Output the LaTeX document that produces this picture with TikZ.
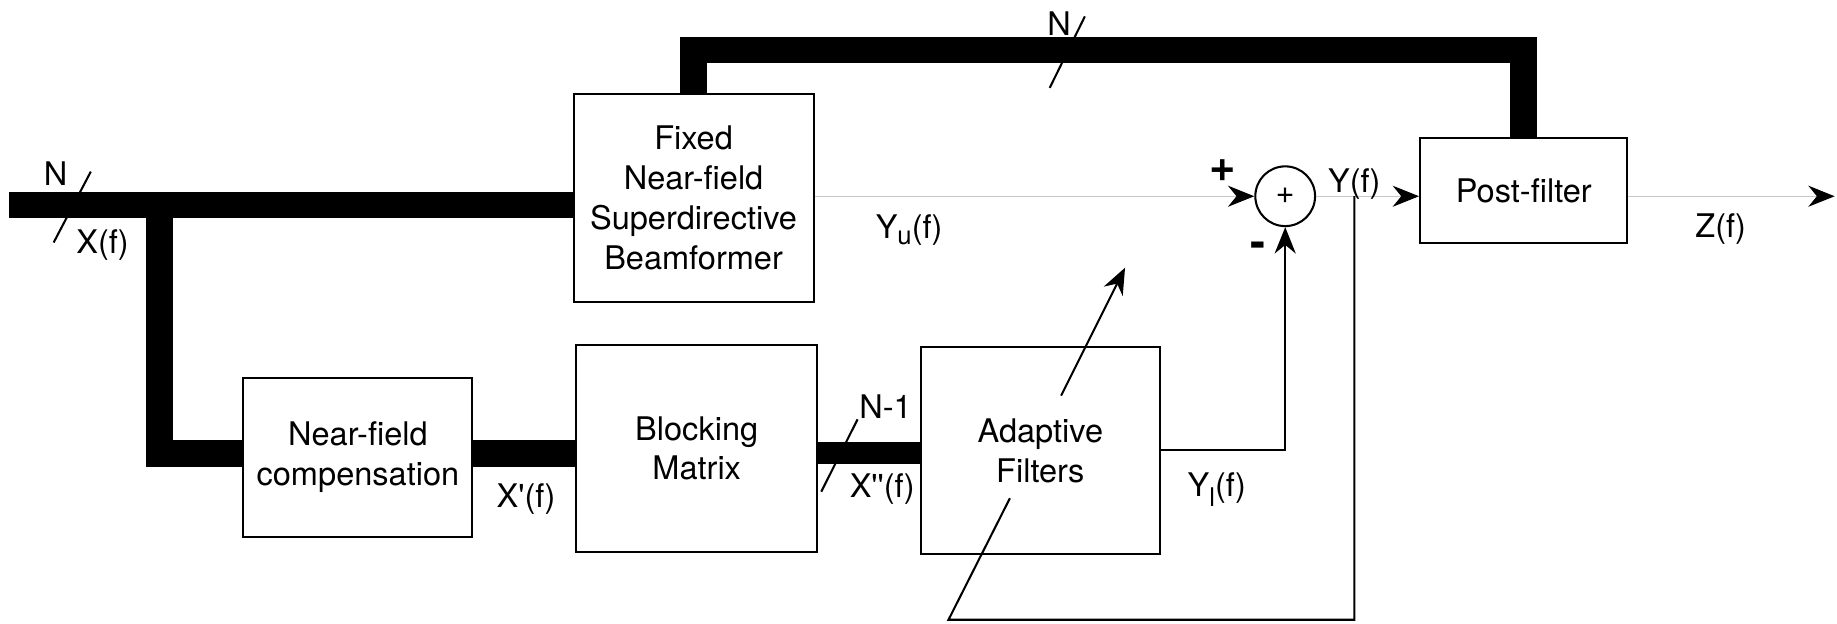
\documentclass[tikz,border=0pt]{standalone}
\usepackage{fontspec}
\setmainfont{TeX Gyre Heros}[Ligatures=TeXOff]
\usetikzlibrary{arrows.meta,calc,positioning}

\newcommand{\lowsub}[2]{\raisebox{#1}{\fontsize{12.5}{12.5}\selectfont #2}}

\tikzset{
    blk/.style={draw, line width=1pt, align=center, inner sep=0pt},
    bus/.style={line width=4.6mm},
    thinbus/.style={line width=3.8mm},
    slash/.style={line width=1pt},
    sig/.style={draw=black!22, line width=0.6pt, -{Stealth[length=4.5mm,width=3.6mm,black]}},
    ctl/.style={line width=1pt, -{Stealth[length=4.5mm,width=3.6mm]}},
    lbl/.style={inner sep=0pt, anchor=base},
    sgn/.style={inner sep=0pt, font=\fontsize{22}{22}\selectfont\bfseries},
}

\begin{document}
\begin{tikzpicture}[x=0.2mm, y=-0.2mm, font=\fontsize{15.8}{19.4}\selectfont]
                \useasboundingbox (0,0) rectangle (1568,532);
                \node[blk, minimum width=40.96mm, minimum height=35.4mm] (fixed) at (592,169) {Fixed\\Near-field\\Superdirective\\Beamformer};
                \node[blk, minimum width=39.1mm, minimum height=27mm] (nfc) at (305.5,390.5) {Near-field\\compensation};
                \node[blk, minimum width=41.1mm, minimum height=35.3mm] (bm) at (594.7,382.7) {Blocking\\Matrix};
                \node[blk, minimum width=40.9mm, minimum height=35.4mm] (af) at (888,384.5) {Adaptive\\Filters};
                \node[blk, minimum width=35.4mm, minimum height=17.9mm] (pf) at (1300.6,162.9) {Post-filter};
                \node[circle, draw, line width=1pt, minimum size=10.2mm, inner sep=0pt] (sum) at (1097,167.5) {+};
                \coordinate (xin) at (8,175);
                \coordinate (tee) at (135.8,175);
                \coordinate (lo) at (135.8,386.7);
                \coordinate (top) at (0,42.7);
                \coordinate (tap) at (1156,167.5);
                \coordinate (fb) at (809.6,529);
                \coordinate (a1) at (862,425.3);
                \coordinate (a2) at (905.7,337.7);
                \coordinate (a3) at (960.3,228.5);
                \coordinate (zout) at (1566,167.5);
                \draw[slash] (45.8,207) -- (77.5,146.5);
                \draw[slash] (896,75) -- (926,14);
                \draw[slash] (701,419.7) -- (732,357.9);
                \draw[bus] (xin) -- (xin -| fixed.west);
                \draw[bus] (tee) -- (lo) -- (lo -| nfc.west);
                \draw[bus] (nfc.east |- lo) -- (lo -| bm.west);
                \draw[thinbus] (bm.east |- lo) -- (lo -| af.west);
                \draw[bus] (fixed.north) -- (fixed.north |- top) -- (top -| pf.north) -- (pf.north);
                \draw[sig] (fixed.east |- sum) -- (sum.west);
                \draw[sig] (sum.east) -- (sum.east -| pf.west);
                \draw[sig] (pf.east |- zout) -- (zout);
                \draw[ctl] (af.east) -| (sum.south);
                \draw[line width=1pt] (tap) |- (fb) -- (a1);
                \draw[ctl] (a2) -- (a3);
                \node[lbl] (nin) at (47.4,158) {N};
                \node[lbl] (xf) at (87.5,216) {X(f)};
                \node[lbl] (ntop) at (904,30) {N};
                \node[lbl] (yu) at (776,203.4) {Y\lowsub{-3.2pt}{u}(f)};
                \node[lbl] (yf) at (1156,164) {Y(f)};
                \node[lbl] (zf) at (1468.7,203) {Z(f)};
                \node[lbl] (xp) at (449,433) {X'(f)};
                \node[lbl] (nm1) at (755.8,357) {N-1};
                \node[lbl] (xpp) at (753,425) {X''(f)};
                \node[lbl] (yl) at (1038.6,424) {Y\lowsub{-4.5pt}{l}(f)};
                \node[sgn] (plus) at (1043.4,145.7) {+};
                \node[sgn] (minus) at (1074,212.8) {-};
\end{tikzpicture}
\end{document}
